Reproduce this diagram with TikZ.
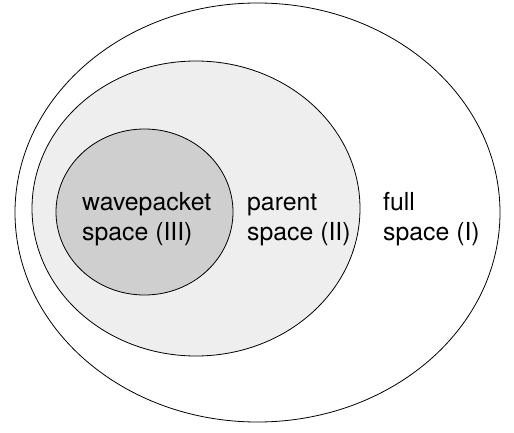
\documentclass[tikz,border=0pt]{standalone}
\usepackage{fontspec}
\setmainfont{TeX Gyre Heros}
\usetikzlibrary{shapes.geometric}
\begin{document}
\begin{tikzpicture}[x=1pt,y=-1pt,
  region/.style={ellipse,draw=black,line width=0.8pt,inner sep=0pt},
  lbl/.style={anchor=base west,inner sep=0pt,align=left,font=\fontsize{24.8}{29.5}\selectfont}]
\useasboundingbox (0,0) rectangle (514,433);
\node[region,fill=white,minimum width=485pt,minimum height=419pt] (full) at (257.5,212.5) {};
\node[region,fill=gray!13,minimum width=328pt,minimum height=295pt] (parent) at (196,208.5) {};
\node[region,fill=gray!38,minimum width=177pt,minimum height=166pt] (wave) at (144.5,212) {};
\node[lbl] (twave) at (82,240) {wavepacket\\space (III)};
\node[lbl] (tparent) at (247,240) {parent\\space (II)};
\node[lbl] (tfull) at (383,240) {full\\space (I)};
\end{tikzpicture}
\end{document}
